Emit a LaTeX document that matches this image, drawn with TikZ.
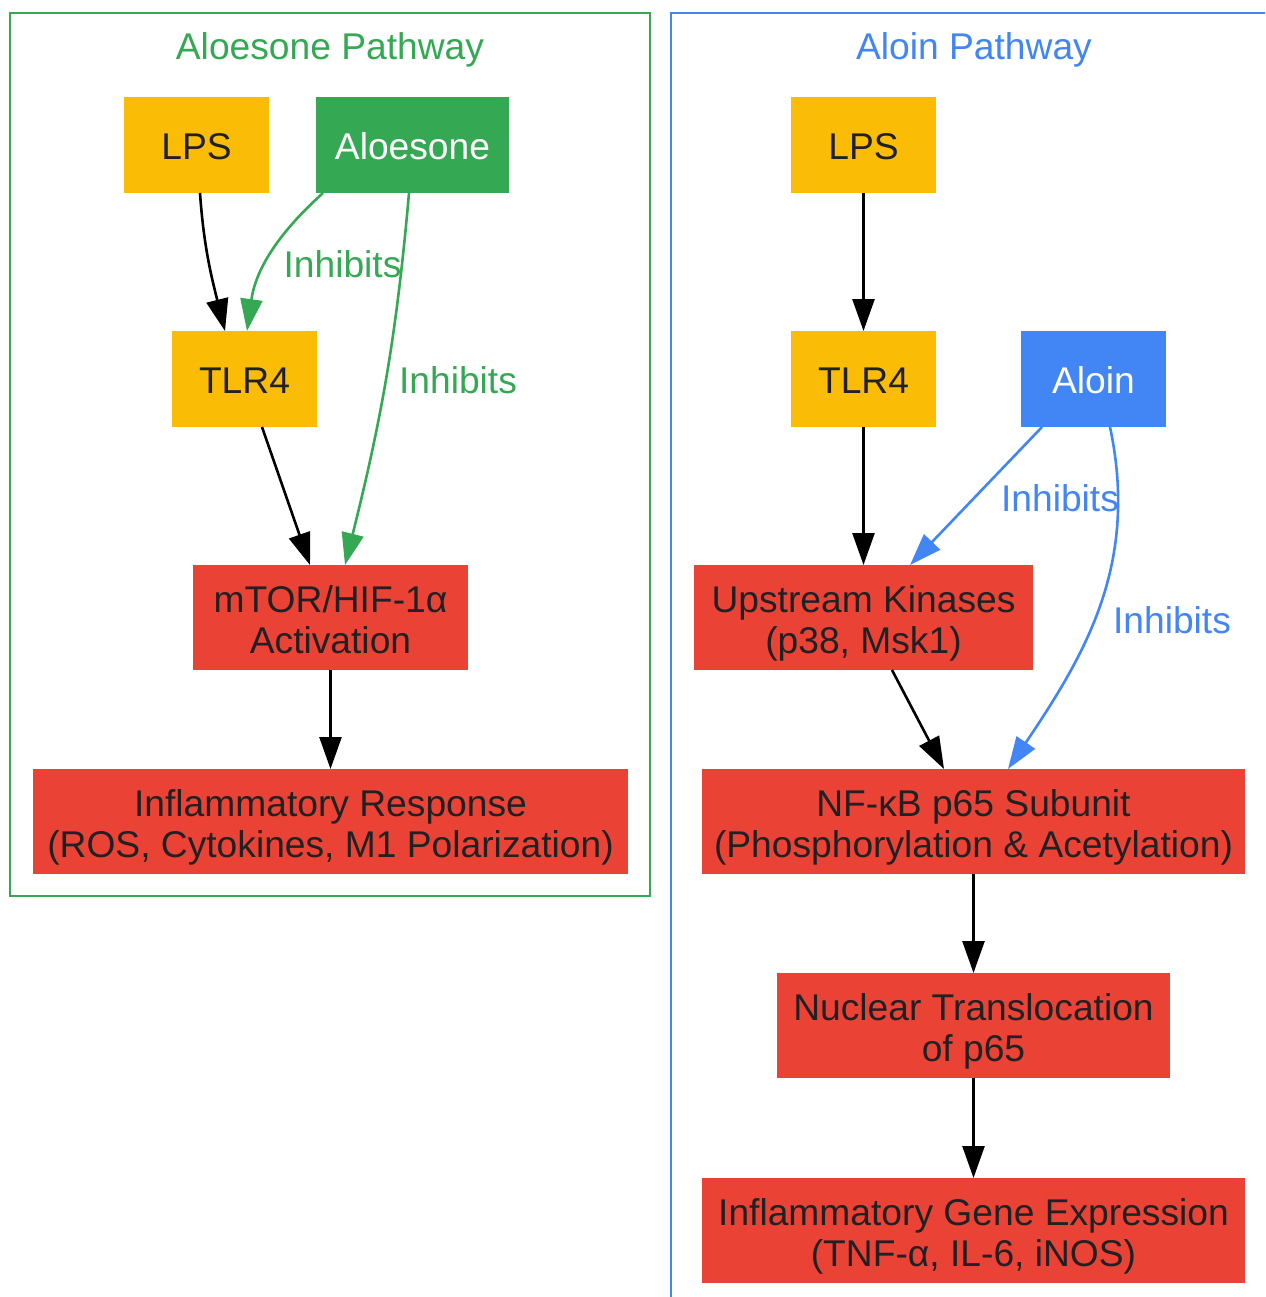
\documentclass[tikz,border=0pt]{standalone}
\usepackage{fontspec}
\setmainfont{Liberation Sans}
\usepackage{tikz}
\usetikzlibrary{positioning, arrows.meta}
\definecolor{gyellow}{HTML}{FBBC05}
\definecolor{ggreen}{HTML}{34A853}
\definecolor{gred}{HTML}{EA4335}
\definecolor{gblue}{HTML}{4285F4}
\definecolor{gtext}{HTML}{202124}
\newcommand{\gvstrut}{\rule[-3.94pt]{0pt}{22.74pt}}
\newcommand{\gvtop}{\rule{0pt}{19.5pt}}
\newcommand{\gvstrutend}{\rule[-3.94pt]{0pt}{1pt}}

\tikzset{
  gvfont/.style={font=\fontsize{18.6pt}{20.8pt}\selectfont},
  box/.style={gvfont, fill=#1, text=gtext, inner sep=0pt, outer sep=0pt,
    minimum height=48pt, align=center,
    execute at begin node=\gvstrut, execute at end node=\gvstrutend},
  proc/.style={box=gred, minimum height=52.5pt},
  act/.style={-{Triangle[length=16pt, width=11pt]}, line width=1.3pt},
  inh/.style={act, draw=#1},
  elabel/.style={gvfont, text=#1, inner sep=0pt, anchor=base},
  frame/.style={draw=#1, line width=1pt},
}

\begin{document}
\begin{tikzpicture}[x=0.5pt, y=0.5pt]
  \useasboundingbox (0,0) rectangle (1265,-1297);
  % cluster frames
  \draw[frame=ggreen] (10,-13) rectangle (650,-896);
  \begin{scope}
    \clip (0,0) rectangle (1265,-1297);
    \draw[frame=gblue] (671,-13) rectangle (1300,-1330);
  \end{scope}
  \node[elabel=ggreen] (titleA) at (330,-59) {Aloesone Pathway};
  \node[elabel=gblue]  (titleB) at (974,-59) {Aloin Pathway};

  % aloesone pathway
  \node[box=gyellow, minimum width=72.5pt] (LPS1) at (196.5,-145) {LPS};
  \node[box=ggreen, text=white, minimum width=96.5pt, right=23.5pt of LPS1] (Aloesone) {Aloesone};
  \node[box=gyellow, minimum width=72.5pt, below=69pt of LPS1, xshift=24pt] (TLR4) {TLR4};
  \node[proc, minimum width=137.5pt, below=69pt of TLR4, xshift=43pt] (mTOR) {\gvtop mTOR/HIF-1α\\Activation};
  \node[proc, minimum width=297.5pt, below=49.5pt of mTOR] (InflResp) {\gvtop Inflammatory Response\\(ROS, Cytokines, M1 Polarization)};

  % aloin pathway
  \node[box=gyellow, minimum width=72.5pt] (LPS2) at (863.5,-145) {LPS};
  \node[box=gyellow, minimum width=72.5pt, below=69pt of LPS2] (TLR4b) {TLR4};
  \node[box=gblue, text=white, minimum width=72.5pt, right=42.5pt of TLR4b] (Aloin) {Aloin};
  \node[proc, minimum width=169.5pt, below=69pt of TLR4b] (Upstream) {\gvtop Upstream Kinases\\(p38, Msk1)};
  \node[proc, minimum width=271.5pt, below=49.5pt of Upstream, xshift=55pt] (NFkB) {\gvtop NF-κB p65 Subunit\\(Phosphorylation \& Acetylation)};
  \node[proc, minimum width=196.5pt, below=49.5pt of NFkB] (Nuclear) {\gvtop Nuclear Translocation\\of p65};
  \node[proc, minimum width=271.5pt, below=50pt of Nuclear] (GeneExpr) {\gvtop Inflammatory Gene Expression\\(TNF-α, IL-6, iNOS)};

  % edge labels
  \node[elabel=ggreen] (inhA) at (342.5,-277) {Inhibits};
  \node[elabel=ggreen] (inhB) at (458,-393) {Inhibits};
  \node[elabel=gblue]  (inhC) at (1060,-511) {Inhibits};
  \node[elabel=gblue]  (inhD) at (1172,-633) {Inhibits};

  \draw[act] ([xshift=1.75pt]LPS1.south) to[out=-86, in=104] ([xshift=-9.75pt]TLR4.north);
  \draw[inh=ggreen] ([xshift=-44.75pt]Aloesone.south) to[out=-138, in=82] ([xshift=1.25pt]TLR4.north);
  \draw[inh=ggreen] ([xshift=-1.75pt]Aloesone.south) to[out=-95, in=76] ([xshift=7.25pt]mTOR.north);
  \draw[act] ([xshift=8.75pt]TLR4.south) -- ([xshift=-10.25pt]mTOR.north);
  \draw[act] (mTOR) -- (InflResp);

  \draw[act] (LPS2) -- (TLR4b);
  \draw[act] (TLR4b) -- (Upstream);
  \draw[inh=gblue] ([xshift=-25.75pt]Aloin.south) -- ([xshift=23.25pt]Upstream.north);
  \draw[inh=gblue] ([xshift=8.25pt]Aloin.south) to[out=-78, in=56] ([xshift=17.25pt]NFkB.north);
  \draw[act] ([xshift=14.25pt]Upstream.south) -- ([xshift=-14.75pt]NFkB.north);
  \draw[act] (NFkB) -- (Nuclear);
  \draw[act] (Nuclear) -- (GeneExpr);
\end{tikzpicture}
\end{document}
